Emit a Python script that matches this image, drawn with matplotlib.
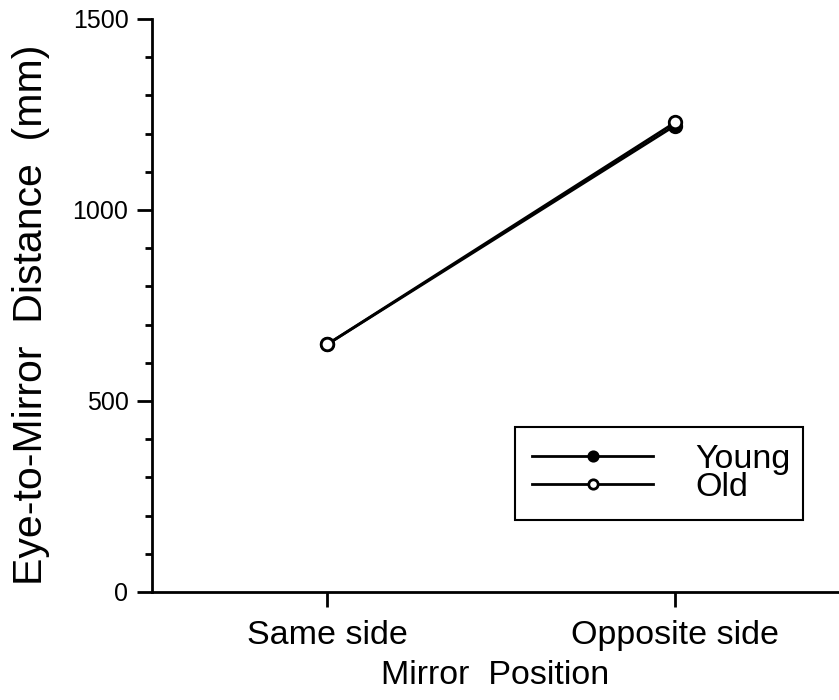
import numpy as np
import matplotlib.pyplot as plt

plt.rcParams['font.family'] = ['Liberation Sans', 'DejaVu Sans']

# mirror position categories and mean eye-to-mirror distance (mm)
positions = ['Same side', 'Opposite side']
young = [648, 1221]
old = [648, 1229]

x = np.arange(len(positions))

fig = plt.figure(figsize=(8.39, 7.0), dpi=100)
ax = fig.add_axes([0.1812, 0.1543, 0.8188, 0.8186])

ax.plot(x, young, '-', color='black', lw=2, marker='o', ms=9,
        mfc='black', mec='black', mew=2, label='Young')
ax.plot(x, old, '-', color='black', lw=2, marker='o', ms=9,
        mfc='white', mec='black', mew=2, label='Old')

ax.set_xlim(-0.503, 1.471)
ax.set_ylim(0, 1500)
ax.set_xticks(x)
ax.set_xticklabels(positions)
ax.set_yticks([0, 500, 1000, 1500])
ax.set_yticks(np.arange(0, 1501, 100), minor=True)

for s in ['top', 'right']:
    ax.spines[s].set_visible(False)
for s in ['left', 'bottom']:
    ax.spines[s].set_linewidth(2)

ax.tick_params(axis='both', which='major', direction='out', length=11,
               width=2, labelsize=18, pad=6)
ax.tick_params(axis='x', labelsize=24.5, pad=9)
ax.tick_params(axis='y', which='minor', direction='out', length=5, width=2)

ax.set_xlabel('Mirror  Position', fontsize=24.5, labelpad=7)
ax.set_ylabel('Eye-to-Mirror  Distance  (mm)', fontsize=29.5, labelpad=16)
ax.yaxis.label.set_y(0.483)

leg = ax.legend(loc='upper left', bbox_to_anchor=(0.6138, 0.257, 0.3433, 0.133),
                bbox_transform=fig.transFigure, mode='expand', borderaxespad=0,
                fontsize=24.5, handlelength=3.56, handletextpad=1.24,
                labelspacing=-0.08, borderpad=0.5, markerscale=0.75,
                fancybox=False, framealpha=1, edgecolor='black')
leg.get_frame().set_linewidth(1.5)

plt.savefig('out.png', dpi=100)
